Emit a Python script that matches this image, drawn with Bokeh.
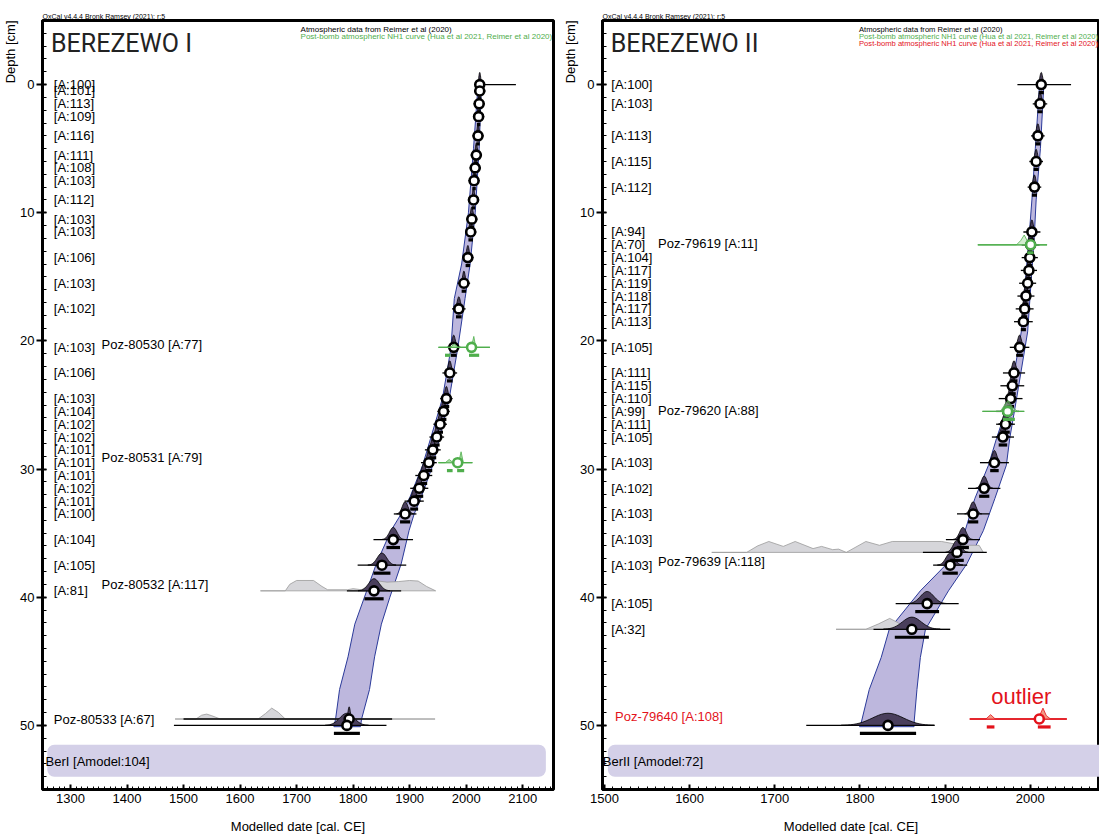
import numpy as np
from bokeh.plotting import figure
from bokeh.layouts import row
from bokeh.models import Range1d, SingleIntervalTicker, Title
from bokeh.core.properties import value
from bokeh.embed import file_html
from bokeh.resources import INLINE

FONT = "Liberation Sans"

# ================= BEREZEWO I =================
L_depth = [0, 0.5, 1.5, 2.5, 4, 5.5, 6.5, 7.5, 9, 10.5, 11.5, 13.5, 15.5, 17.5, 20.5, 22.5, 24.5, 25.5,
           26.5, 27.5, 28.5, 29.5, 30.5, 31.5, 32.5, 33.5, 35.5, 37.5, 39.5, 49.5, 50]
L_mu = [2024, 2024, 2023, 2022, 2021, 2018, 2016, 2014, 2013, 2010, 2008, 2003, 1996, 1987, 1978, 1971,
        1965, 1960, 1954, 1948, 1941, 1934, 1925, 1917, 1908, 1892, 1871, 1851, 1837, 1793, 1789]
L_lo = [2020, 2014, 2013, 2012, 2011, 2008, 2006, 2004, 2003, 2000, 1998, 1993, 1985, 1975, 1966, 1958,
        1954, 1949, 1942, 1935, 1927, 1920, 1910, 1901, 1891, 1872, 1836, 1808, 1789, 1500, 1483]
L_hi = [2088, 2034, 2033, 2032, 2031, 2028, 2026, 2024, 2023, 2020, 2018, 2013, 2007, 1999, 1990, 1984,
        1976, 1971, 1966, 1961, 1955, 1948, 1940, 1933, 1925, 1912, 1906, 1894, 1885, 1869, 1859]
L_range = [3, 3, 3, 3, 3, 3, 3, 3, 3, 4, 4, 4, 4, 5, 5, 5, 5, 5, 5, 5, 6, 6, 6, 7, 7, 9, 12, 15, 17, 0, 23]

L_lab_depth = [0, 0.5, 1.5, 2.5, 4, 5.5, 6.5, 7.5, 9, 10.5, 11.5, 13.5, 15.5, 17.5, 20.5, 22.5, 24.5, 25.5,
               26.5, 27.5, 28.5, 29.5, 30.5, 31.5, 32.5, 33.5, 35.5, 37.5, 39.5]
L_lab = ["[A:100]", "[A:101]", "[A:113]", "[A:109]", "[A:116]", "[A:111]", "[A:108]", "[A:103]", "[A:112]",
         "[A:103]", "[A:103]", "[A:106]", "[A:103]", "[A:102]", "[A:103]", "[A:106]", "[A:103]", "[A:104]",
         "[A:102]", "[A:102]", "[A:101]", "[A:101]", "[A:101]", "[A:102]", "[A:101]", "[A:100]", "[A:104]",
         "[A:105]", "[A:81]"]
L_poz = ["Poz-80530 [A:77]", "Poz-80531 [A:79]", "Poz-80532 [A:117]"]
L_poz_depth = [20.3, 29.1, 39.0]
L_poz_bottom = "Poz-80533 [A:67]"
L_poz_bottom_depth = 49.5

# model envelope
LE_depth = [0, 5, 10, 14, 16.7, 20.6, 24.5, 29.7, 32.25, 33.5, 34.8, 37.4, 40, 42.1, 44.65, 47.2, 49.5, 50.1]
LE_lo = [2021, 2013, 2004, 1992, 1979, 1973, 1958, 1923, 1900, 1885, 1867, 1841, 1820, 1803, 1791, 1776, 1769, 1766]
LE_hi = [2027, 2023, 2016, 2007, 1998, 1985, 1970, 1941, 1920, 1908, 1899, 1885, 1865, 1850, 1838, 1829, 1815, 1813]

# unmodelled (grey) likelihoods
L_g532_depth = 39.5
L_g532_yr = [1636, 1680, 1688, 1700, 1730, 1745, 1755, 1790, 1800, 1815, 1828, 1845, 1860, 1880, 1900, 1915, 1930, 1946]
L_g532_h = [0, 0, 0.6, 0.95, 0.95, 0.4, 0.1, 0.1, 0.2, 0.1, 0.5, 0.9, 0.8, 0.85, 0.95, 0.9, 0.4, 0]
L_g533_depth = 49.5
L_g533_yr = [1485, 1522, 1532, 1541, 1550, 1565, 1632, 1645, 1656, 1668, 1680, 1945]
L_g533_h = [0, 0, 0.35, 0.45, 0.3, 0, 0, 0.5, 1.0, 0.6, 0, 0]

# post-bomb (green) dates
L_green_depth = [20.5, 29.5]
L_green_yr = [[1951, 1972, 1979, 1986, 2006, 2010, 2013.5, 2017, 2042],
              [1951, 1963, 1970, 1977, 1984, 1988, 1991, 1995, 2011]]
L_green_h = [[0, 0, 0.3, 0, 0, 0.2, 1.0, 0, 0],
             [0, 0, 0.3, 0, 0, 0.3, 1.0, 0, 0]]
L_green_pt = [2009.5, 1985]
L_green_br = [[(1962.6, 1972), (2005, 2023)], [(1966, 1976), (1984, 1996.5)]]

# ================= BEREZEWO II =================
R_depth = [0, 1.5, 4, 6, 8, 11.5, 12.5, 13.5, 14.5, 15.5, 16.5, 17.5, 18.5, 20.5, 22.5, 23.5, 24.5, 25.5,
           26.5, 27.5, 29.5, 31.5, 33.5, 35.5, 36.5, 37.5, 40.5, 42.5, 50]
R_mu = [2013, 2011.5, 2009, 2007, 2005, 2002, 2000.5, 1999.5, 1998.5, 1997, 1995, 1993.5, 1992, 1987.5, 1981,
        1979, 1977, 1973.5, 1971, 1968, 1958, 1946, 1933, 1921, 1914, 1906, 1879, 1861, 1833]
R_lo = [1985, 2003, 2001, 1999, 1997, 1992, 1990, 1990, 1989, 1987, 1985, 1983, 1981, 1976, 1968, 1965, 1963,
        1960, 1960, 1955, 1941, 1927, 1914, 1901, 1874, 1886, 1842, 1816, 1737]
R_hi = [2048, 2020, 2017, 2015, 2013, 2012, 2011, 2009, 2008, 2007, 2005, 2004, 2003, 1999, 1994, 1993, 1991,
        1987, 1982, 1981, 1975, 1965, 1952, 1941, 1949, 1926, 1916, 1906, 1887]
R_range = [3, 3, 3, 3, 3, 3, 4, 3, 3, 3, 3, 3, 3, 4, 4, 4, 4, 5, 5, 5, 5, 6, 6, 7, 8, 9, 14, 20, 33]

R_lab_depth = [0, 1.5, 4, 6, 8, 11.5, 12.5, 13.5, 14.5, 15.5, 16.5, 17.5, 18.5, 20.5, 22.5, 23.5, 24.5, 25.5,
               26.5, 27.5, 29.5, 31.5, 33.5, 35.5, 37.5, 40.5, 42.5]
R_lab = ["[A:100]", "[A:103]", "[A:113]", "[A:115]", "[A:112]", "[A:94]", "[A:70]", "[A:104]", "[A:117]",
         "[A:119]", "[A:118]", "[A:117]", "[A:113]", "[A:105]", "[A:111]", "[A:115]", "[A:110]", "[A:99]",
         "[A:111]", "[A:105]", "[A:103]", "[A:102]", "[A:103]", "[A:103]", "[A:103]", "[A:105]", "[A:32]"]
R_poz = ["Poz-79619 [A:11]", "Poz-79620 [A:88]", "Poz-79639 [A:118]"]
R_poz_depth = [12.4, 25.4, 37.2]
R_red_lab = "Poz-79640 [A:108]"
R_red_lab_depth = 49.3

RE_depth = [0, 5, 9, 11.6, 19.3, 24.5, 27.6, 29.7, 32.3, 34.8, 37.4, 39.5, 42.5, 44.7, 47.2, 49.8, 50.1]
RE_lo = [2011, 2006, 2002, 1999, 1989.5, 1976, 1960.5, 1951, 1935, 1923.6, 1902, 1871, 1834.5, 1825, 1811, 1801.5, 1799.6]
RE_hi = [2016, 2012, 2007, 2005, 1997, 1984, 1976, 1972, 1958.5, 1945, 1925.6, 1904, 1877, 1871, 1867, 1863.6, 1863.6]

R_g639_depth = 36.5
R_g639_yr = [1626, 1667, 1680, 1693, 1710, 1724, 1745, 1755, 1768, 1775, 1784, 1807, 1823, 1838, 1896, 1920, 1940, 1945]
R_g639_h = [0, 0, 0.6, 1.0, 0.55, 1.0, 0.35, 0.55, 0.25, 0.3, 0, 1.0, 0.65, 1.0, 1.0, 0.65, 0.65, 0]
R_g32_depth = 42.5
R_g32_yr = [1772, 1807, 1822, 1835, 1845, 1852, 1906]
R_g32_h = [0, 0, 0.5, 1.0, 0.6, 0, 0]

R_green_depth = [12.5, 25.5]
R_green_yr = [[1938.5, 1984, 1989, 1993, 1997, 2002, 2019.8],
              [1944, 1965, 1970, 1974, 1979, 1985, 1993]]
R_green_h = [[0, 0, 0.4, 0.9, 0.3, 0, 0],
             [0, 0, 0.6, 1.0, 0.4, 0, 0]]
R_green_pt = [2000.5, 1973.5]
R_green_br = [[(1996.5, 2004)], [(1968, 1982)]]

R_red_depth = 49.5
R_red_yr = [1929, 1948, 1953.5, 1959, 2007, 2011, 2015, 2019, 2024, 2043]
R_red_h = [0, 0, 0.4, 0, 0, 0.3, 1.0, 0.3, 0, 0]
R_red_pt = 2010.7
R_red_br = [(1949, 1958), (2009, 2024)]

# ================= styles =================
ENV_FILL = "#bdb7dd"
ENV_LINE = "#2b3a9a"
POST_FILL = "#4a3f5c"
GREY_FILL = "#d6d6da"
GREY_LINE = "#9a9a9a"
GREEN = "#4fae4c"
GREEN_FILL = "#a9dba3"
RED = "#e3121b"
RED_FILL = "#f29a85"
BOX_FILL = "#d4d0e8"
H_POST = 0.95
H_LIKE = 0.85
BR_OFF = 0.62


def post_shape(mu, s, d):
    t = np.linspace(-3, 3, 31)
    return list(mu + s * t), list(d - H_POST * np.exp(-0.5 * t * t))


def make_fig(width, xr, bl, br, title, title_x, box_lo, box_hi, box_text, box_x, legend_x, legend_size, legends):
    p = figure(width=width, height=836, x_range=Range1d(*xr), y_range=Range1d(55, -5),
               output_backend="svg", toolbar_location=None,
               min_border_left=bl, min_border_right=br, min_border_top=20, min_border_bottom=44)
    p.background_fill_color = "white"
    p.border_fill_color = "white"
    p.xgrid.visible = False
    p.ygrid.visible = False
    p.outline_line_color = "black"
    p.outline_line_width = 3
    p.outline_line_alpha = 1

    p.title.text = "OxCal v4.4.4 Bronk Ramsey (2021); r:5"
    p.title.text_font = FONT
    p.title.text_font_size = "7px"
    p.title.text_font_style = "normal"
    p.title.text_color = "black"
    p.title.align = "left"
    p.title.standoff = 1

    p.add_layout(Title(text="Depth [cm]", align="right", text_font=FONT, text_font_size="13px",
                       text_font_style="normal", text_color="black", standoff=0), "left")

    p.xaxis.ticker = SingleIntervalTicker(interval=100, num_minor_ticks=10)
    p.yaxis.ticker = SingleIntervalTicker(interval=10, num_minor_ticks=10)
    for ax in (p.xaxis[0], p.yaxis[0]):
        ax.axis_line_width = 3
        ax.major_label_text_font = FONT
        ax.major_label_text_font_size = "13px"
        ax.major_label_text_color = "black"
        ax.major_tick_line_width = 2
        ax.minor_tick_line_width = 1
        ax.axis_label_text_font = FONT
        ax.axis_label_text_font_size = "13px"
        ax.axis_label_text_font_style = "normal"
        ax.axis_label_text_color = "black"
    p.xaxis.major_tick_in = 5
    p.xaxis.major_tick_out = 0
    p.xaxis.minor_tick_in = 3
    p.xaxis.minor_tick_out = 0
    p.xaxis.major_label_standoff = 4
    p.xaxis.axis_label = "Modelled date [cal. CE]"
    p.xaxis.axis_label_standoff = 13
    p.yaxis.major_tick_in = 4
    p.yaxis.major_tick_out = 6
    p.yaxis.minor_tick_in = 4
    p.yaxis.minor_tick_out = 0
    p.yaxis.major_label_standoff = 2

    # summary box at the bottom
    p.quad(left=[box_lo], right=[box_hi], top=[51.5], bottom=[54], fill_color=BOX_FILL,
           line_color=None, border_radius=7)
    p.text(x=[box_x], y=[52.8], text=[box_text], text_font=value(FONT),
           text_font_size="13px", text_baseline="middle", text_align="left", text_color="black")

    # title
    p.text(x=[title_x], y=[-3.2], text=[title], text_font=value("Roboto"),
           text_font_size="25px", text_baseline="middle", text_align="left", text_color="#222222")
    for i, (txt, col) in enumerate(legends):
        p.text(x=[legend_x], y=[-4.3 + 0.53 * i], text=[txt], text_font=value(FONT),
               text_font_size=legend_size, text_baseline="middle", text_align="left", text_color=col)
    return p


def draw_like(p, yrs, hs, d, fill, line, alpha=1.0):
    xs = list(yrs)
    ys = [d - H_LIKE * h for h in hs]
    p.patch(x=xs, y=ys, fill_color=fill, line_color=line, line_width=0.8, fill_alpha=alpha)


def draw_nodes(p, depth, mu, lo, hi, rng):
    p.segment(x0=lo, x1=hi, y0=depth, y1=depth, line_color="black", line_width=1.3)
    xs, ys = [], []
    for d, m, r in zip(depth, mu, rng):
        s = max(r / 1.8, 1.2) if r > 0 else 2.0
        a, b = post_shape(m, s, d)
        xs.append(a)
        ys.append(b)
    p.patches(xs=xs, ys=ys, fill_color=POST_FILL, line_color="black", line_width=0.8)
    bd = [d + BR_OFF for d, r in zip(depth, rng) if r > 0]
    b0 = [m - r for m, r in zip(mu, rng) if r > 0]
    b1 = [m + r for m, r in zip(mu, rng) if r > 0]
    p.segment(x0=b0, x1=b1, y0=bd, y1=bd, line_color="black", line_width=3.2)
    p.scatter(x=mu, y=depth, marker="circle", size=9, fill_color="white", line_color="black", line_width=2.6)


def draw_labels(p, x, depth, labels, color="black"):
    p.text(x=[x] * len(labels), y=depth, text=labels, text_font=value(FONT), text_font_size="13px",
           text_baseline="middle", text_align="left", text_color=color)


# ---------- left ----------
pl = make_fig(560, (1250.5, 2154.5), 40, 7, "BEREZEWO I", 1265.5, 1259, 2141, "BerI [Amodel:104]", 1256, 1707,
              "8px",
              [("Atmospheric data from Reimer et al (2020)", "black"),
               ("Post-bomb atmospheric NH1 curve (Hua et al 2021, Reimer et al 2020)", GREEN)])
pl.patch(x=LE_lo + LE_hi[::-1], y=LE_depth + LE_depth[::-1], fill_color=ENV_FILL, line_color=ENV_LINE,
         line_width=1)
draw_like(pl, L_g532_yr, L_g532_h, L_g532_depth, GREY_FILL, GREY_LINE)
draw_like(pl, L_g533_yr, L_g533_h, L_g533_depth, GREY_FILL, GREY_LINE)
draw_nodes(pl, L_depth, L_mu, L_lo, L_hi, L_range)
for d, yr, h, pt, brs in zip(L_green_depth, L_green_yr, L_green_h, L_green_pt, L_green_br):
    pl.segment(x0=[yr[0]], x1=[yr[-1]], y0=[d], y1=[d], line_color=GREEN, line_width=1.3)
    draw_like(pl, yr, h, d, GREEN_FILL, GREEN)
    pl.segment(x0=[b[0] for b in brs], x1=[b[1] for b in brs], y0=[d + BR_OFF] * len(brs),
               y1=[d + BR_OFF] * len(brs), line_color=GREEN, line_width=3.2)
    pl.scatter(x=[pt], y=[d], marker="circle", size=9, fill_color="white", line_color=GREEN, line_width=2.6)
draw_labels(pl, 1270.5, L_lab_depth, L_lab)
draw_labels(pl, 1355, L_poz_depth, L_poz)
draw_labels(pl, 1270.5, [L_poz_bottom_depth], [L_poz_bottom])

# ---------- right ----------
pr = make_fig(539, (1497.7, 2081.4), 37, 0, "BEREZEWO II", 1507.3, 1504, 2120, "BerII [Amodel:72]", 1498, 1799,
              "7.6px",
              [("Atmospheric data from Reimer et al (2020)", "black"),
               ("Post-bomb atmospheric NH1 curve (Hua et al 2021, Reimer et al 2020)", GREEN),
               ("Post-bomb atmospheric NH1 curve (Hua et al 2021, Reimer et al 2020)", RED)])
pr.patch(x=RE_lo + RE_hi[::-1], y=RE_depth + RE_depth[::-1], fill_color=ENV_FILL, line_color=ENV_LINE,
         line_width=1)
draw_like(pr, R_g639_yr, R_g639_h, R_g639_depth, GREY_FILL, GREY_LINE)
draw_like(pr, R_g32_yr, R_g32_h, R_g32_depth, GREY_FILL, GREY_LINE)
draw_nodes(pr, R_depth, R_mu, R_lo, R_hi, R_range)
for d, yr, h, pt, brs in zip(R_green_depth, R_green_yr, R_green_h, R_green_pt, R_green_br):
    pr.segment(x0=[yr[0]], x1=[yr[-1]], y0=[d], y1=[d], line_color=GREEN, line_width=1.3)
    draw_like(pr, yr, h, d, GREEN_FILL, GREEN, alpha=0.5)
    pr.segment(x0=[b[0] for b in brs], x1=[b[1] for b in brs], y0=[d + BR_OFF] * len(brs),
               y1=[d + BR_OFF] * len(brs), line_color=GREEN, line_width=3.2)
    pr.scatter(x=[pt], y=[d], marker="circle", size=9, fill_color="white", line_color=GREEN, line_width=2.6)
# outlier
pr.segment(x0=[R_red_yr[0]], x1=[R_red_yr[-1]], y0=[R_red_depth], y1=[R_red_depth], line_color=RED, line_width=1.3)
draw_like(pr, R_red_yr, R_red_h, R_red_depth, RED_FILL, RED)
pr.segment(x0=[b[0] for b in R_red_br], x1=[b[1] for b in R_red_br], y0=[R_red_depth + BR_OFF] * 2,
           y1=[R_red_depth + BR_OFF] * 2, line_color=RED, line_width=3.2)
pr.scatter(x=[R_red_pt], y=[R_red_depth], marker="circle", size=9, fill_color="white", line_color=RED, line_width=2.6)
pr.text(x=[1989.5], y=[47.75], text=["outlier"], text_font=value(FONT), text_font_size="22px",
        text_baseline="middle", text_align="center", text_color=RED)
draw_labels(pr, 1508, R_lab_depth, R_lab)
draw_labels(pr, 1563, R_poz_depth, R_poz)
draw_labels(pr, 1512.5, [R_red_lab_depth], [R_red_lab], color=RED)

layout = row(pl, pr)
open("out.html", "w").write(file_html(layout, INLINE))
